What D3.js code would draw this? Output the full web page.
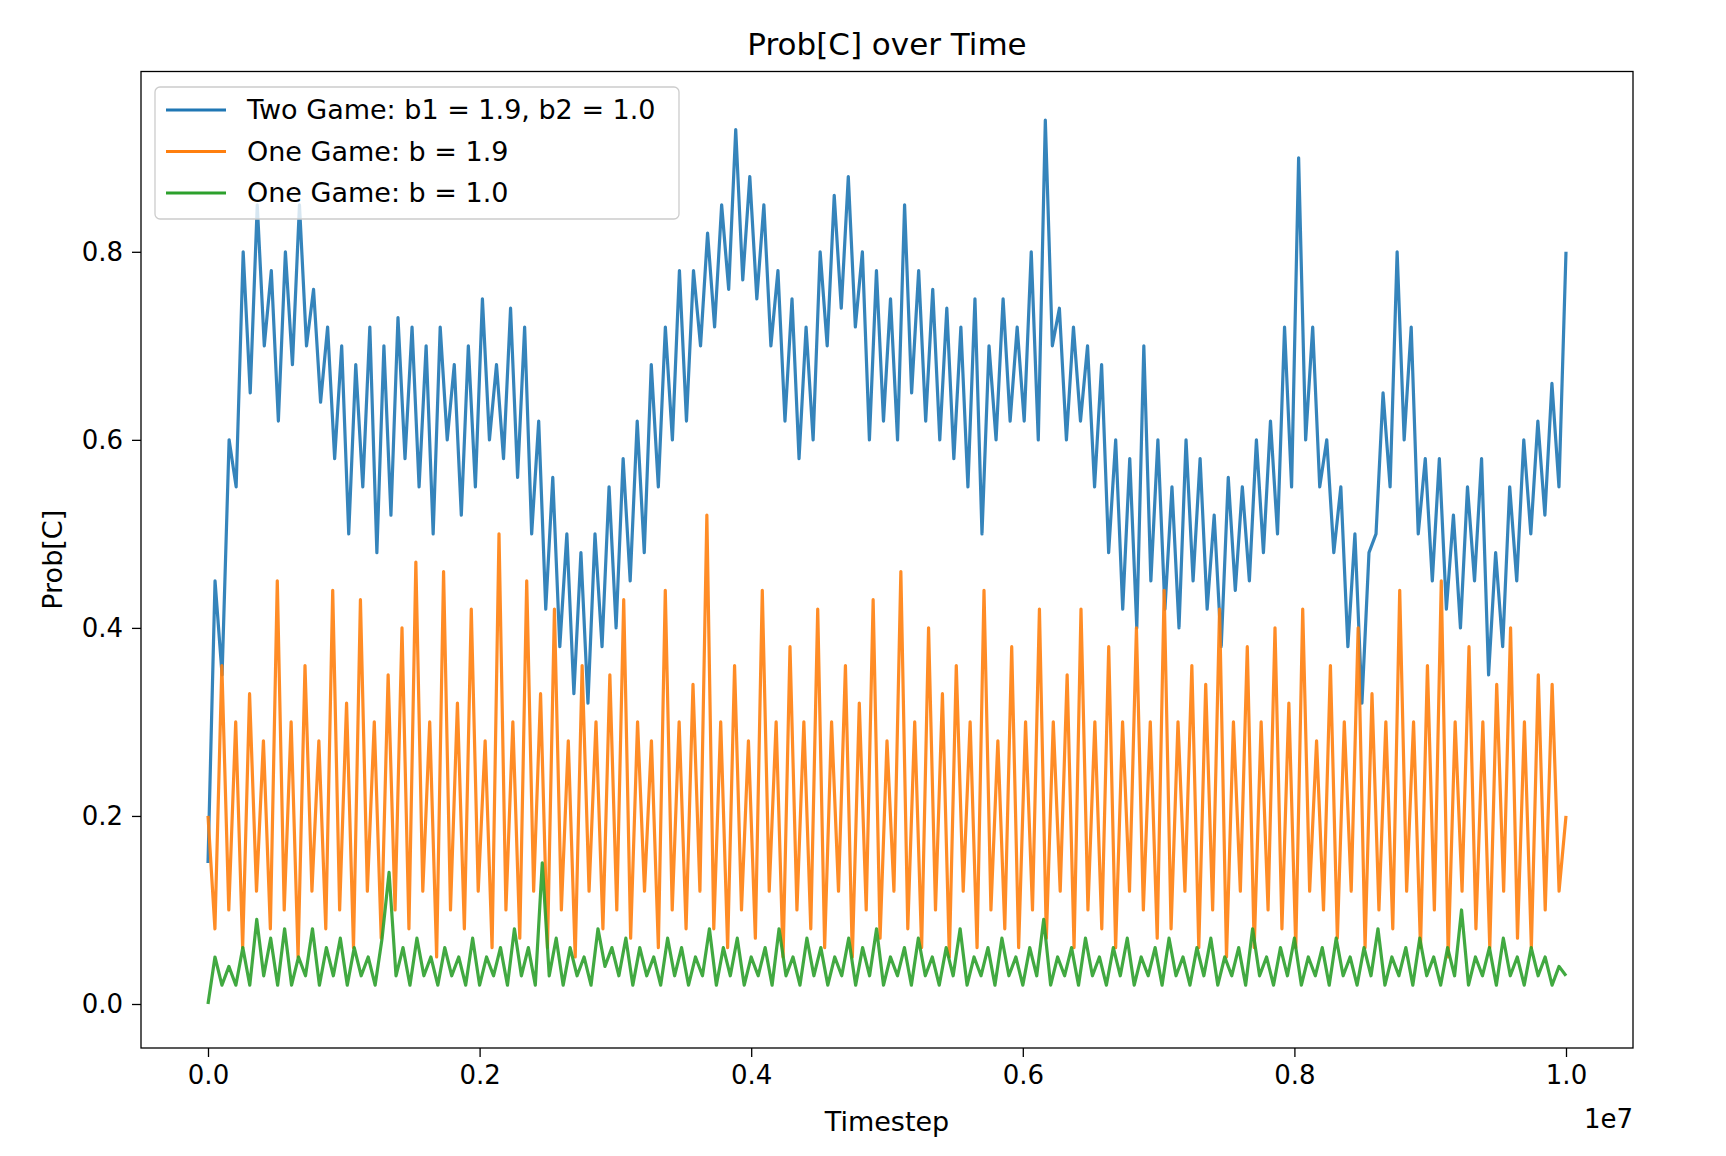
<!DOCTYPE html>
<html><head><meta charset="utf-8">
<script src="https://cdn.jsdelivr.net/npm/d3@7"></script>
<style>body{margin:0;background:#fff}svg{font-family:"DejaVu Sans",sans-serif}</style>
</head><body><svg id="c" width="1726" height="1156"></svg>
<script>
const xTicks=[0,0.2e7,0.4e7,0.6e7,0.8e7,1.0e7];
const yTicks=[0,0.2,0.4,0.6,0.8];
const seriesNames=["Two Game: b1 = 1.9, b2 = 1.0","One Game: b = 1.9","One Game: b = 1.0"];
const colors=["#1f77b4","#ff7f0e","#2ca02c"];
const blue=[0.15,0.45,0.35,0.6,0.55,0.8,0.65,0.85,0.7,0.78,0.62,0.8,0.68,0.85,0.7,0.76,0.64,0.72,0.58,0.7,0.5,0.68,0.55,0.72,0.48,0.7,0.52,0.73,0.58,0.72,0.55,0.7,0.5,0.72,0.6,0.68,0.52,0.7,0.55,0.75,0.6,0.68,0.58,0.74,0.56,0.72,0.5,0.62,0.42,0.56,0.38,0.5,0.33,0.48,0.32,0.5,0.38,0.55,0.4,0.58,0.45,0.62,0.48,0.68,0.55,0.72,0.6,0.78,0.62,0.78,0.7,0.82,0.72,0.85,0.76,0.93,0.77,0.88,0.75,0.85,0.7,0.78,0.62,0.75,0.58,0.72,0.6,0.8,0.7,0.86,0.74,0.88,0.72,0.8,0.6,0.78,0.62,0.75,0.6,0.85,0.65,0.78,0.62,0.76,0.6,0.74,0.58,0.72,0.55,0.75,0.5,0.7,0.6,0.75,0.62,0.72,0.62,0.8,0.6,0.94,0.7,0.74,0.6,0.72,0.62,0.7,0.55,0.68,0.48,0.6,0.42,0.58,0.4,0.7,0.45,0.6,0.42,0.55,0.4,0.6,0.45,0.58,0.42,0.52,0.38,0.56,0.44,0.55,0.45,0.6,0.48,0.62,0.5,0.72,0.55,0.9,0.6,0.72,0.55,0.6,0.48,0.55,0.38,0.5,0.32,0.48,0.5,0.65,0.55,0.8,0.6,0.72,0.5,0.58,0.45,0.58,0.42,0.52,0.4,0.55,0.45,0.58,0.35,0.48,0.38,0.55,0.45,0.6,0.5,0.62,0.52,0.66,0.55,0.8];
const orange=[0.2,0.08,0.36,0.1,0.3,0.06,0.33,0.12,0.28,0.08,0.45,0.1,0.3,0.05,0.36,0.12,0.28,0.08,0.44,0.1,0.32,0.06,0.43,0.12,0.3,0.07,0.35,0.1,0.4,0.08,0.47,0.12,0.3,0.05,0.46,0.1,0.32,0.08,0.42,0.12,0.28,0.06,0.5,0.1,0.3,0.07,0.45,0.12,0.33,0.06,0.42,0.1,0.28,0.05,0.36,0.12,0.3,0.08,0.35,0.1,0.43,0.07,0.3,0.12,0.28,0.06,0.44,0.1,0.3,0.08,0.34,0.12,0.52,0.08,0.3,0.06,0.36,0.1,0.28,0.07,0.44,0.12,0.3,0.05,0.38,0.1,0.3,0.08,0.42,0.06,0.3,0.12,0.36,0.05,0.32,0.1,0.43,0.07,0.28,0.12,0.46,0.08,0.3,0.06,0.4,0.1,0.33,0.05,0.36,0.12,0.3,0.06,0.44,0.1,0.28,0.08,0.38,0.06,0.3,0.1,0.42,0.07,0.3,0.12,0.35,0.06,0.42,0.1,0.3,0.08,0.38,0.06,0.3,0.12,0.4,0.1,0.3,0.07,0.44,0.08,0.3,0.12,0.36,0.06,0.34,0.1,0.42,0.05,0.3,0.12,0.38,0.06,0.3,0.1,0.4,0.08,0.32,0.06,0.42,0.12,0.28,0.1,0.36,0.07,0.3,0.12,0.4,0.06,0.33,0.1,0.3,0.08,0.44,0.12,0.3,0.06,0.36,0.1,0.45,0.05,0.3,0.12,0.38,0.08,0.3,0.06,0.34,0.12,0.4,0.07,0.3,0.06,0.35,0.1,0.34,0.12,0.2];
const green=[0.0,0.05,0.02,0.04,0.02,0.06,0.02,0.09,0.03,0.07,0.02,0.08,0.02,0.05,0.03,0.08,0.02,0.06,0.03,0.07,0.02,0.06,0.03,0.05,0.02,0.07,0.14,0.03,0.06,0.02,0.07,0.03,0.05,0.02,0.06,0.03,0.05,0.02,0.07,0.02,0.05,0.03,0.06,0.02,0.08,0.03,0.06,0.02,0.15,0.03,0.07,0.02,0.06,0.03,0.05,0.02,0.08,0.04,0.06,0.03,0.07,0.02,0.06,0.03,0.05,0.02,0.07,0.03,0.06,0.02,0.05,0.03,0.08,0.02,0.06,0.03,0.07,0.02,0.05,0.03,0.06,0.02,0.08,0.03,0.05,0.02,0.07,0.03,0.06,0.02,0.05,0.03,0.07,0.02,0.06,0.03,0.08,0.02,0.05,0.03,0.06,0.02,0.07,0.03,0.05,0.02,0.06,0.03,0.08,0.02,0.05,0.03,0.06,0.02,0.07,0.03,0.05,0.02,0.06,0.03,0.09,0.02,0.05,0.03,0.06,0.02,0.07,0.03,0.05,0.02,0.06,0.03,0.07,0.02,0.05,0.03,0.06,0.02,0.07,0.03,0.05,0.02,0.06,0.03,0.07,0.02,0.05,0.03,0.06,0.02,0.08,0.03,0.05,0.02,0.06,0.03,0.07,0.02,0.05,0.03,0.06,0.02,0.07,0.03,0.05,0.02,0.06,0.03,0.08,0.02,0.05,0.03,0.06,0.02,0.07,0.03,0.05,0.02,0.06,0.03,0.1,0.02,0.05,0.03,0.06,0.02,0.07,0.03,0.05,0.02,0.06,0.03,0.05,0.02,0.04,0.03];
const svg=d3.select("#c");
const L=141,R=1633,T=71.5,B=1048;
const x=d3.scaleLinear().domain([0,1e7]).range([208,1566]);
const y=d3.scaleLinear().domain([0,0.8]).range([1004,251.8]);
[blue,orange,green].forEach((s,k)=>{
  const line=d3.line().x((d,i)=>x(i/(s.length-1)*1e7)).y(d=>y(d));
  svg.append("path").attr("d",line(s)).attr("fill","none").attr("stroke",colors[k]).attr("stroke-opacity",0.9).attr("stroke-width",3.2).attr("stroke-linejoin","round");
});
const xa=svg.append("g").attr("transform",`translate(0,${B})`).call(d3.axisBottom(x).tickValues(xTicks).tickFormat(d=>(d/1e7).toFixed(1)).tickSize(9).tickPadding(9));
const ya=svg.append("g").attr("transform",`translate(${L},0)`).call(d3.axisLeft(y).tickValues(yTicks).tickFormat(d3.format(".1f")).tickSize(9).tickPadding(9));
[xa,ya].forEach(a=>{a.select(".domain").remove();a.selectAll("text").attr("font-size",26).attr("font-family","DejaVu Sans").attr("fill","#000");a.selectAll("line").attr("stroke","#000").attr("stroke-width",1.3);});
svg.append("rect").attr("x",L).attr("y",T).attr("width",R-L).attr("height",B-T).attr("fill","none").attr("stroke","#000").attr("stroke-width",1.3);
svg.append("text").attr("x",(L+R)/2).attr("y",55).attr("text-anchor","middle").attr("font-size",31).text("Prob[C] over Time");
svg.append("text").attr("x",(L+R)/2).attr("y",1131).attr("text-anchor","middle").attr("font-size",27).text("Timestep");
svg.append("text").attr("x",R).attr("y",1128).attr("text-anchor","end").attr("font-size",26).text("1e7");
svg.append("text").attr("transform",`translate(62,${(T+B)/2}) rotate(-90)`).attr("text-anchor","middle").attr("font-size",27).text("Prob[C]");
const lg=svg.append("g");
lg.append("rect").attr("x",155).attr("y",87).attr("width",524).attr("height",132).attr("rx",5).attr("fill","#fff").attr("fill-opacity",0.8).attr("stroke","#ccc").attr("stroke-width",1.3);
seriesNames.forEach((n,k)=>{
  const yy=110+k*41.5;
  lg.append("line").attr("x1",166).attr("x2",226).attr("y1",yy).attr("y2",yy).attr("stroke",colors[k]).attr("stroke-width",3);
  lg.append("text").attr("x",247).attr("y",yy+9).attr("font-size",27).text(n);
});
</script></body></html>
